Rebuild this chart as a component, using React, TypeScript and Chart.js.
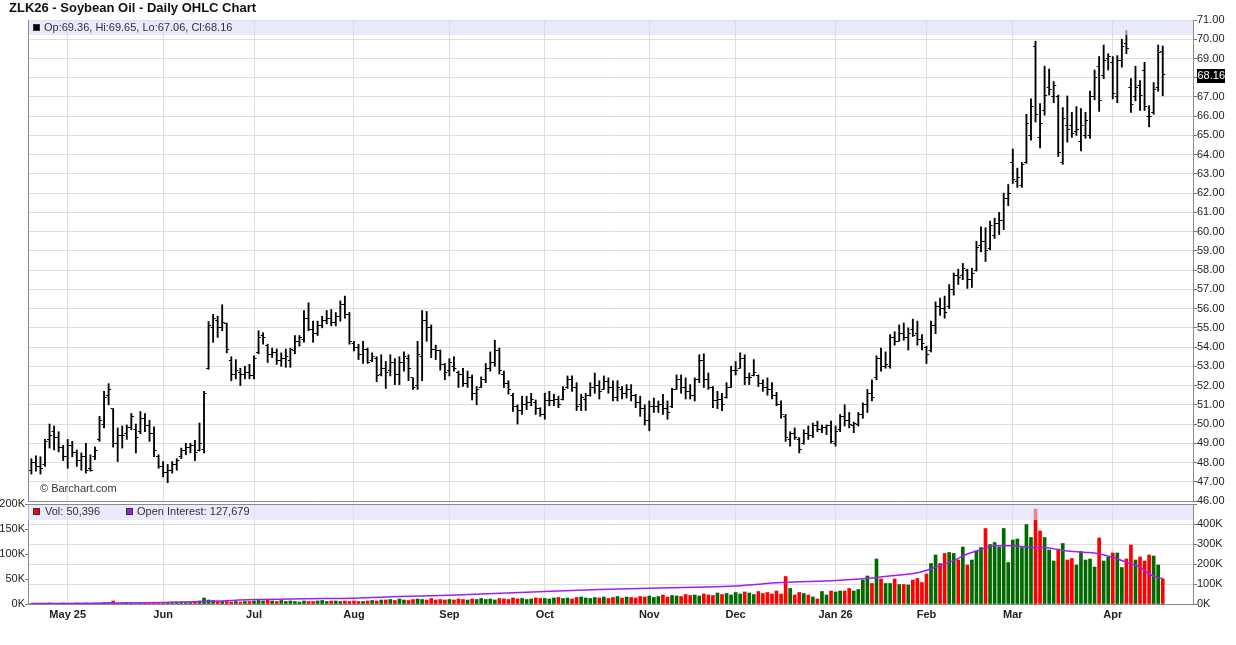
import React, { useEffect, useRef } from "react";
import { Chart, registerables } from "chart.js";

Chart.register(...registerables);

const FONT = '"Liberation Sans", Arial, Helvetica, sans-serif';

// ---------- data ----------
const MONTH_IDX = [8, 29, 49, 71, 92, 113, 136, 155, 177, 197, 216, 238];
const MONTH_LABELS = ["May 25", "Jun", "Jul", "Aug", "Sep", "Oct", "Nov", "Dec", "Jan 26", "Feb", "Mar", "Apr"];

const OPEN = [
  47.6, 48.0, 47.8, 47.9, 49.2, 49.6, 49.3, 48.8, 48.3, 48.9,
  48.5, 48.1, 48.3, 47.7, 48.3, 49.2, 50.0, 51.5, 50.8, 49.0,
  49.4, 49.5, 49.8, 49.7, 49.6, 50.3, 49.9, 49.5, 48.3, 47.8,
  47.5, 47.6, 47.9, 48.3, 48.6, 48.8, 48.9, 48.6, 48.7, 52.9,
  55.0, 55.4, 55.0, 55.2, 53.3, 52.6, 52.7, 52.6, 52.7, 52.5,
  53.7, 54.6, 54.1, 53.6, 53.7, 53.3, 53.4, 53.3, 53.8, 54.3,
  54.4, 55.5, 54.9, 54.7, 55.1, 55.4, 55.5, 55.3, 55.6, 56.2,
  55.7, 54.2, 54.0, 53.6, 53.9, 53.3, 53.4, 52.6, 52.9, 52.8,
  53.2, 52.6, 53.2, 53.4, 52.4, 52.0, 53.5, 55.4, 55.0, 53.9,
  53.8, 53.1, 52.8, 53.0, 52.7, 52.6, 52.1, 52.4, 51.6, 51.9,
  52.3, 52.9, 53.2, 53.8, 52.6, 52.1, 51.5, 50.9, 50.7, 51.0,
  51.1, 51.1, 50.8, 50.5, 51.2, 51.2, 51.3, 51.3, 51.9, 52.3,
  51.9, 51.0, 51.3, 51.5, 51.9, 52.0, 51.8, 52.2, 51.9, 51.4,
  51.8, 51.6, 51.8, 51.5, 51.1, 50.8, 50.2, 50.9, 50.9, 51.0,
  50.8, 50.9, 51.8, 52.3, 51.9, 51.7, 51.5, 52.3, 53.3, 52.3,
  51.9, 51.2, 51.3, 51.4, 51.9, 52.8, 52.9, 53.4, 52.4, 52.5,
  52.5, 52.1, 51.9, 51.8, 51.5, 51.0, 50.4, 49.2, 49.5, 49.2,
  49.0, 49.5, 49.4, 49.9, 49.7, 49.8, 49.9, 49.0, 49.7, 50.4,
  50.2, 49.9, 50.0, 50.5, 51.0, 51.6, 52.4, 53.4, 53.0, 53.0,
  54.5, 54.3, 54.7, 54.5, 54.9, 54.7, 54.4, 54.0, 53.8, 55.1,
  56.1, 56.0, 56.1, 57.0, 57.7, 57.7, 58.0, 57.5, 58.0, 59.3,
  59.5, 59.1, 59.8, 60.4, 60.6, 61.7, 63.6, 62.6, 62.4, 63.6,
  65.0, 69.6, 64.9, 66.3, 67.5, 67.0, 67.0, 63.6, 65.5, 65.5,
  65.2, 64.7, 65.0, 65.0, 67.0, 68.6, 68.1, 69.0, 68.8, 67.0,
  68.9, 69.8, 67.5, 67.0, 67.6, 68.4, 66.0, 66.2, 67.5, 69.36,
];

const HIGH = [
  48.2, 48.35, 48.3, 49.2, 50.0, 49.9, 49.6, 48.9, 49.2, 49.1,
  48.65, 48.5, 49.0, 48.4, 48.8, 50.4, 51.7, 52.1, 50.8, 49.8,
  49.9, 49.95, 50.55, 50.0, 50.65, 50.55, 50.2, 49.85, 48.4, 48.05,
  47.9, 48.05, 48.2, 48.75, 49.0, 49.0, 49.15, 50.05, 51.7, 55.33,
  55.7, 55.6, 56.2, 55.25, 53.5, 53.35, 52.9, 53.0, 53.1, 53.55,
  54.85, 54.75, 54.15, 53.95, 53.9, 53.7, 53.9, 53.95, 54.6, 54.6,
  55.9, 56.3, 55.35, 55.35, 55.6, 55.9, 55.95, 55.8, 56.4, 56.65,
  55.8, 54.3, 54.15, 54.3, 53.95, 53.7, 53.5, 53.6, 53.25, 53.6,
  53.4, 53.5, 53.75, 53.6, 52.4, 54.3, 55.9, 55.85, 55.15, 54.1,
  53.85, 53.15, 53.4, 53.5, 52.75, 52.9, 52.75, 52.55, 51.95, 52.45,
  53.15, 53.75, 54.35, 53.95, 52.75, 52.25, 51.6, 51.0, 51.45, 51.45,
  51.6, 51.25, 50.85, 51.6, 51.7, 51.55, 51.45, 51.95, 52.5, 52.5,
  52.15, 51.55, 51.6, 52.15, 52.65, 52.25, 52.5, 52.4, 52.25, 52.25,
  51.95, 52.05, 52.05, 51.55, 51.45, 51.0, 51.2, 51.35, 51.2, 51.55,
  51.2, 51.85, 52.55, 52.55, 52.4, 52.05, 52.4, 53.6, 53.65, 52.65,
  51.95, 51.7, 51.6, 52.15, 53.0, 53.25, 53.7, 53.6, 52.65, 53.35,
  52.55, 52.3, 52.4, 52.15, 51.65, 51.2, 50.5, 49.6, 49.8, 49.3,
  49.7, 49.9, 50.05, 50.15, 49.95, 49.95, 50.15, 49.9, 50.5, 51.0,
  50.6, 50.1, 50.6, 51.1, 51.8, 52.3, 53.55, 53.95, 53.75, 54.65,
  54.8, 55.15, 55.25, 55.0, 55.45, 55.35, 54.65, 54.05, 55.35, 56.35,
  56.55, 56.65, 57.25, 57.85, 58.05, 58.35, 58.05, 58.1, 59.5, 60.25,
  60.2, 60.55, 60.7, 61.0, 62.0, 62.45, 64.3, 63.3, 63.6, 66.1,
  66.9, 69.9, 66.65, 68.6, 68.45, 67.8, 67.1, 66.45, 67.05, 66.2,
  66.5, 66.4, 66.2, 67.3, 68.4, 69.1, 69.7, 69.25, 69.1, 69.15,
  70.0, 70.45, 67.95, 68.6, 67.85, 68.8, 66.55, 67.75, 69.7, 69.65,
];

const LOW = [
  47.4, 47.55, 47.4, 47.8, 48.75, 48.65, 48.55, 48.1, 47.7, 48.3,
  47.8, 47.6, 47.45, 47.55, 48.15, 49.1, 49.8, 51.0, 48.8, 48.05,
  48.75, 49.2, 49.7, 48.5, 49.5, 49.6, 49.1, 48.3, 47.7, 47.25,
  46.95, 47.45, 47.6, 48.2, 48.4, 48.5, 48.1, 48.6, 48.5, 52.85,
  54.25, 54.5, 54.85, 53.7, 52.25, 52.35, 52.0, 52.35, 52.35, 52.35,
  53.65, 54.15, 53.2, 53.45, 53.1, 53.0, 52.95, 52.95, 53.65, 54.05,
  54.25, 54.85, 54.25, 54.6, 55.0, 55.2, 55.1, 55.1, 55.35, 55.5,
  54.15, 53.8, 53.35, 53.15, 53.15, 53.25, 52.2, 52.5, 51.85, 52.5,
  52.05, 52.05, 52.75, 52.25, 51.8, 51.8, 52.25, 54.3, 53.45, 53.35,
  52.8, 52.3, 52.5, 52.75, 51.9, 51.95, 51.9, 51.25, 51.0, 51.9,
  52.15, 52.75, 53.0, 52.6, 51.9, 51.55, 50.65, 50.0, 50.5, 50.75,
  50.95, 50.5, 50.4, 50.25, 50.95, 50.95, 50.85, 51.25, 51.85, 51.7,
  50.7, 50.7, 50.7, 51.45, 51.6, 51.3, 51.8, 51.6, 51.2, 51.2,
  51.3, 51.35, 51.2, 50.85, 50.4, 49.95, 49.65, 50.6, 50.6, 50.5,
  50.25, 50.85, 51.8, 51.6, 51.3, 51.3, 51.2, 52.15, 51.9, 51.8,
  50.85, 50.8, 50.7, 51.35, 51.9, 52.55, 52.9, 52.05, 52.05, 52.5,
  51.95, 51.7, 51.5, 51.3, 50.95, 50.3, 49.1, 48.85, 49.2, 48.5,
  48.95, 49.2, 49.3, 49.6, 49.55, 49.45, 49.0, 48.85, 49.6, 49.9,
  49.8, 49.55, 49.9, 50.3, 50.6, 51.2, 52.3, 52.75, 52.9, 52.9,
  54.1, 54.3, 54.35, 53.85, 54.55, 54.1, 53.85, 53.15, 53.75, 54.7,
  55.65, 55.5, 56.0, 56.7, 57.25, 57.5, 57.05, 57.1, 57.95, 58.95,
  58.45, 59.05, 59.65, 59.85, 60.1, 61.35, 62.5, 62.3, 62.3, 63.55,
  64.75, 65.7, 64.35, 66.05, 67.1, 66.7, 63.9, 63.5, 64.65, 64.9,
  65.0, 64.2, 64.85, 64.85, 66.85, 66.25, 67.95, 68.4, 66.9, 66.7,
  68.55, 69.25, 66.2, 66.8, 66.3, 66.3, 65.45, 66.1, 67.3, 67.06,
];

const CLOSE = [
  48.0, 47.8, 47.7, 49.1, 49.4, 49.3, 48.8, 48.3, 48.9, 48.5,
  48.1, 48.3, 47.6, 47.6, 48.6, 50.2, 51.4, 51.8, 49.0, 49.4,
  49.4, 49.8, 50.4, 49.3, 50.3, 49.9, 49.5, 48.6, 47.8, 47.5,
  47.6, 47.9, 48.1, 48.6, 48.8, 48.9, 48.5, 49.0, 51.6, 55.1,
  55.5, 55.0, 55.3, 53.9, 52.6, 52.8, 52.6, 52.7, 52.5, 53.4,
  54.5, 54.5, 53.6, 53.7, 53.3, 53.4, 53.5, 53.9, 54.3, 54.5,
  55.5, 54.9, 54.7, 55.1, 55.4, 55.5, 55.3, 55.6, 56.2, 55.7,
  54.3, 54.0, 53.6, 53.9, 53.2, 53.5, 52.5, 52.9, 52.7, 53.2,
  52.6, 53.2, 53.5, 52.9, 51.9, 53.6, 55.4, 55.0, 53.9, 53.8,
  53.1, 52.7, 53.2, 52.9, 52.6, 52.1, 52.4, 51.6, 51.8, 52.3,
  52.9, 53.2, 53.8, 52.8, 52.1, 51.8, 50.9, 50.7, 51.0, 51.1,
  51.3, 50.8, 50.5, 51.2, 51.2, 51.3, 51.0, 51.8, 52.3, 51.9,
  50.9, 51.4, 51.5, 51.9, 52.0, 51.7, 52.2, 51.9, 51.4, 51.9,
  51.6, 51.8, 51.5, 51.1, 50.8, 50.2, 50.9, 50.9, 51.0, 50.8,
  50.6, 51.8, 52.3, 51.9, 51.7, 51.5, 52.3, 53.3, 52.3, 51.9,
  51.2, 51.3, 51.0, 51.9, 52.8, 52.8, 53.4, 52.4, 52.4, 52.7,
  52.1, 51.9, 51.8, 51.5, 51.0, 50.5, 49.3, 49.5, 49.3, 48.7,
  49.5, 49.4, 49.9, 49.7, 49.8, 49.9, 49.1, 49.6, 50.4, 50.2,
  50.0, 50.05, 50.5, 51.0, 51.6, 51.4, 53.4, 53.0, 53.1, 54.5,
  54.3, 54.7, 54.5, 54.7, 54.6, 54.4, 54.2, 53.6, 55.1, 56.1,
  56.0, 55.8, 57.0, 57.7, 57.6, 58.1, 57.5, 57.8, 59.2, 59.5,
  59.0, 60.3, 60.4, 60.6, 61.7, 62.0, 62.7, 62.8, 63.5, 65.6,
  66.5, 66.1, 65.6, 67.1, 67.4, 67.6, 64.1, 65.9, 65.3, 65.1,
  65.3, 65.5, 65.8, 67.0, 68.0, 66.8, 68.9, 69.1, 67.2, 68.9,
  69.6, 69.5, 66.6, 67.5, 67.1, 66.5, 66.0, 67.4, 69.3, 68.16,
];

// volume in thousands of contracts
const VOLUME = [
  1, 1, 1, 1, 2, 1, 1, 2, 1, 1, 2, 1, 2, 1, 2,
  2, 3, 3, 6, 2, 2, 3, 2, 1, 3, 2, 3, 2, 2,
  3, 3, 4, 4, 4, 3, 3, 5, 6, 12, 8, 7, 6, 5, 5, 4, 5, 4, 5, 5, 6,
  7, 6, 8, 6, 5, 7, 5, 6, 5, 4, 6, 5, 5, 6, 7, 5, 6, 6, 5, 6, 5,
  6, 5, 5, 6, 7, 6, 8, 8, 9, 7, 10, 8, 7, 9, 10, 9, 8, 11, 8, 9, 8,
  9, 8, 10, 9, 8, 10, 9, 11, 9, 10, 8, 11, 10, 9, 12, 10, 11, 9, 10, 12, 11,
  11, 10, 12, 13, 11, 12, 10, 13, 14, 12, 11, 13, 12, 14, 11, 13, 15, 12, 14, 13, 12, 15, 14,
  16, 13, 15, 18, 14, 17, 16, 15, 19, 17, 18, 16, 20, 18, 17, 22, 19, 21, 18, 23, 20, 24, 22, 19, 25, 21, 23, 20, 26,
  20, 55, 31, 18, 23, 21, 18, 14, 10, 25, 18, 26, 24, 26, 26, 31, 26, 29, 48, 56,
  41, 90, 50, 41, 41, 50, 39, 39, 38, 48, 51, 43, 60, 81, 98, 81, 101, 103, 101, 88,
  114, 78, 88, 106, 113, 151, 119, 123, 114, 151, 83, 128, 130, 113, 159, 133, 190, 146, 133, 108,
  86, 110, 121, 88, 91, 78, 105, 88, 90, 74, 132, 86, 94, 102, 102, 73, 90, 118, 88, 94,
  86, 98, 96, 78, 50.396,
];

// open interest (thousands), read at these bar indices
const OI_IDX = [0, 15, 29, 40, 49, 60, 71, 81, 92, 103, 113, 125, 136, 146, 155, 165, 177, 185, 190, 195, 199, 203, 206, 209, 212, 216, 220, 223, 227, 232, 234, 238, 241, 244, 246, 248, 249];
const OI_VAL = [2, 4, 8, 14, 22, 26, 29, 37, 44, 54, 63, 72, 79, 84, 90, 107, 118, 130, 143, 156, 184, 217, 250, 272, 291, 291, 283, 283, 267, 258, 255, 234, 209, 184, 150, 132, 127.679];

const VOL_LAST = "50,396";
const OI_LAST = "127,679";

// ---------- layout constants ----------
const X_MIN = -0.74;
const X_MAX = 255.66;
const GRID = "#dedede";
const AXIS = "#8a8a8a";

function makeTickImage(side: "left" | "right") {
  const c = document.createElement("canvas");
  c.width = 7;
  c.height = 1;
  const g = c.getContext("2d")!;
  g.fillStyle = "#000";
  g.fillRect(side === "left" ? 1 : 4, 0, 2, 1);
  return c;
}

function xAxis(showLabels: boolean) {
  return {
    type: "linear" as const,
    min: X_MIN,
    max: X_MAX,
    offset: false,
    bounds: "data" as const,
    afterBuildTicks: (s: any) => {
      s.ticks = MONTH_IDX.map((v) => ({ value: v }));
    },
    afterFit: (s: any) => {
      s.height = showLabels ? 41 : 0;
    },
    ticks: {
      display: showLabels,
      autoSkip: false,
      maxRotation: 0,
      padding: 4,
      color: "#222",
      font: { size: 11, weight: "bold" as const, family: FONT },
      callback: (v: any) => {
        const k = MONTH_IDX.indexOf(Number(v));
        return k >= 0 ? MONTH_LABELS[k] : "";
      },
    },
    grid: { color: GRID, drawTicks: false, offset: false },
    border: { color: AXIS },
  };
}

export default function App() {
  const priceRef = useRef<HTMLCanvasElement>(null);
  const volRef = useRef<HTMLCanvasElement>(null);

  useEffect(() => {
    document.body.style.margin = "0";
    const idx = CLOSE.map((_, i) => i);
    const last = CLOSE.length - 1;
    const openImg = makeTickImage("left");
    const closeImg = makeTickImage("right");

    const pricePanel = {
      id: "pricePanel",
      afterDatasetsDraw(chart: any) {
        const { ctx, chartArea: a } = chart;
        ctx.save();
        ctx.fillStyle = "rgba(220,220,250,0.62)";
        ctx.fillRect(a.left, a.top, a.right - a.left, 15);
        ctx.strokeStyle = AXIS;
        ctx.lineWidth = 1;
        ctx.beginPath();
        ctx.moveTo(a.left + 0.5, a.top);
        ctx.lineTo(a.left + 0.5, a.bottom);
        ctx.stroke();
        ctx.restore();
      },
      afterDraw(chart: any) {
        const { ctx, chartArea: a } = chart;
        const y = chart.scales.y.getPixelForValue(CLOSE[last]);
        ctx.save();
        ctx.fillStyle = "#000";
        ctx.fillRect(a.right + 4, Math.round(y) - 6, 28, 14);
        ctx.fillStyle = "#fff";
        ctx.font = `11px ${FONT}`;
        ctx.textAlign = "left";
        ctx.textBaseline = "middle";
        ctx.fillText(CLOSE[last].toFixed(2), a.right + 4.5, Math.round(y) + 1);
        ctx.restore();
      },
    };

    const volPanel = {
      id: "volPanel",
      afterDatasetsDraw(chart: any) {
        const { ctx, chartArea: a } = chart;
        ctx.save();
        ctx.fillStyle = "rgba(220,220,250,0.6)";
        ctx.fillRect(a.left, a.top + 1, a.right - a.left, 15);
        ctx.strokeStyle = AXIS;
        ctx.lineWidth = 1;
        ctx.beginPath();
        ctx.moveTo(a.left, a.top + 0.5);
        ctx.lineTo(a.right, a.top + 0.5);
        ctx.stroke();
        ctx.restore();
      },
    };

    const tickFont = { size: 11, family: FONT };

    const price = new Chart(priceRef.current!, {
      type: "bar",
      data: {
        datasets: [
          {
            type: "line",
            data: idx.map((i) => ({ x: i, y: OPEN[i] })),
            showLine: false,
            pointStyle: openImg as any,
            pointRadius: 3,
            order: 0,
          } as any,
          {
            type: "line",
            data: idx.map((i) => ({ x: i, y: CLOSE[i] })),
            showLine: false,
            pointStyle: closeImg as any,
            pointRadius: 3,
            order: 0,
          } as any,
          {
            type: "bar",
            data: idx.map((i) => ({ x: i, y: [LOW[i], HIGH[i]] })),
            backgroundColor: "#000",
            borderWidth: 0,
            barThickness: 1.2,
            grouped: false,
            order: 1,
          } as any,
        ],
      },
      options: {
        responsive: false,
        animation: false,
        events: [],
        layout: { padding: { top: 20, left: 28, right: 0, bottom: 9 } },
        plugins: { legend: { display: false }, tooltip: { enabled: false } },
        scales: {
          x: xAxis(false) as any,
          y: {
            position: "right",
            min: 46,
            max: 71,
            afterFit: (s: any) => {
              s.width = 43;
            },
            ticks: {
              stepSize: 1,
              autoSkip: false,
              padding: 0,
              color: "#222",
              font: tickFont,
              callback: (v: any) => Number(v).toFixed(2),
            },
            grid: { color: GRID, tickColor: "#777", tickLength: 4 },
            border: { color: AXIS },
          },
        },
      },
      plugins: [pricePanel],
    });

    const volColors = idx.map((i) =>
      i === 0 || CLOSE[i] >= CLOSE[i - 1] ? "#006a00" : "#ff0000"
    );

    const vol = new Chart(volRef.current!, {
      type: "bar",
      data: {
        datasets: [
          {
            type: "line",
            yAxisID: "oi",
            data: OI_IDX.map((x, k) => ({ x, y: OI_VAL[k] })),
            borderColor: "#a020f0",
            borderWidth: 1.5,
            pointRadius: 0,
            cubicInterpolationMode: "monotone",
            order: 0,
          } as any,
          {
            type: "bar",
            yAxisID: "vol",
            data: idx.map((i) => ({ x: i, y: VOLUME[i] })),
            backgroundColor: volColors,
            borderWidth: 0,
            barThickness: 3,
            grouped: false,
            order: 1,
          } as any,
        ],
      },
      options: {
        responsive: false,
        animation: false,
        events: [],
        layout: { padding: { top: 14, left: 0, right: 0, bottom: 0 } },
        plugins: { legend: { display: false }, tooltip: { enabled: false } },
        scales: {
          x: xAxis(true) as any,
          vol: {
            type: "linear",
            position: "left",
            min: 0,
            max: 200,
            afterFit: (s: any) => {
              s.width = 28;
            },
            ticks: {
              stepSize: 50,
              autoSkip: false,
              padding: 0,
              color: "#222",
              font: tickFont,
              callback: (v: any) => `${v}K`,
            },
            grid: { drawOnChartArea: false, tickColor: "#777", tickLength: 3 },
            border: { color: AXIS },
          },
          oi: {
            type: "linear",
            position: "right",
            min: 0,
            max: 500,
            afterFit: (s: any) => {
              s.width = 43;
            },
            ticks: {
              stepSize: 100,
              autoSkip: false,
              padding: 0,
              color: "#222",
              font: tickFont,
              callback: (v: any) => (Number(v) >= 500 ? "" : `${v}K`),
            },
            grid: { color: GRID, tickColor: "#777", tickLength: 4 },
            border: { color: AXIS },
          },
        } as any,
      },
      plugins: [volPanel],
    });

    return () => {
      price.destroy();
      vol.destroy();
    };
  }, []);

  const text: React.CSSProperties = {
    position: "absolute",
    fontFamily: FONT,
    fontSize: 11,
    color: "#333",
    whiteSpace: "nowrap",
  };
  const square = (bg: string, left: number, top: number): React.CSSProperties => ({
    position: "absolute",
    left,
    top,
    width: 7,
    height: 7,
    boxSizing: "border-box",
    background: bg,
    border: "1px solid #333",
  });

  return (
    <div
      style={{
        position: "fixed",
        left: 0,
        top: 0,
        width: 1236,
        height: 645,
        background: "#fff",
        overflow: "hidden",
      }}
    >
      <canvas
        ref={priceRef}
        width={1236}
        height={510}
        style={{ position: "absolute", left: 0, top: 0, width: 1236, height: 510 }}
      />
      <canvas
        ref={volRef}
        width={1236}
        height={155}
        style={{ position: "absolute", left: 0, top: 490, width: 1236, height: 155 }}
      />
      <div
        style={{
          ...text,
          left: 9,
          top: 0,
          fontSize: 13,
          fontWeight: "bold",
          color: "#111",
          lineHeight: "16px",
        }}
      >
        ZLK26 - Soybean Oil - Daily OHLC Chart
      </div>
      <div style={square("#000", 33, 24)} />
      <div style={{ ...text, left: 44, top: 20, lineHeight: "14px" }}>
        Op:{OPEN[OPEN.length - 1].toFixed(2)}, Hi:{HIGH[HIGH.length - 1].toFixed(2)}, Lo:
        {LOW[LOW.length - 1].toFixed(2)}, Cl:{CLOSE[CLOSE.length - 1].toFixed(2)}
      </div>
      <div style={{ ...text, left: 40, top: 481, lineHeight: "14px" }}>© Barchart.com</div>
      <div style={square("#ff0000", 33, 508)} />
      <div style={{ ...text, left: 45, top: 504, lineHeight: "15px" }}>Vol: {VOL_LAST}</div>
      <div style={square("#9a1ef0", 126, 508)} />
      <div style={{ ...text, left: 137, top: 504, lineHeight: "15px" }}>
        Open Interest: {OI_LAST}
      </div>
    </div>
  );
}
